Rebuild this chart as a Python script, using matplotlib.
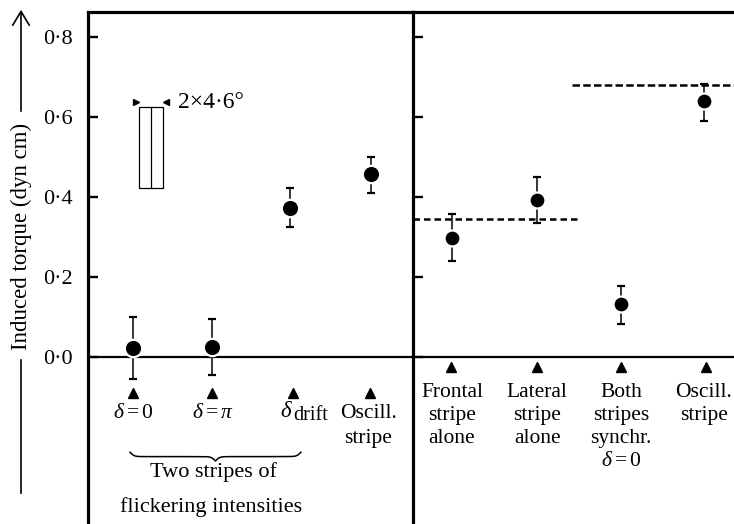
import numpy as np
import matplotlib
matplotlib.use('Agg')
import matplotlib.pyplot as plt

plt.rcParams['font.family'] = ['Liberation Serif', 'DejaVu Serif']
plt.rcParams['mathtext.fontset'] = 'custom'
plt.rcParams['mathtext.rm'] = 'Liberation Serif'
plt.rcParams['mathtext.it'] = 'Liberation Serif:italic'

# Left panel: two flickering stripes
left_pos = [0.55, 1.53, 2.49, 3.48]
left_mean = [0.023, 0.026, 0.373, 0.458]
left_hi = [0.100, 0.096, 0.422, 0.500]
left_lo = [-0.055, -0.045, 0.325, 0.410]

# Right panel
right_pos = [4.48, 5.53, 6.56, 7.58]
right_mean = [0.299, 0.393, 0.132, 0.640]
right_hi = [0.357, 0.450, 0.177, 0.682]
right_lo = [0.240, 0.334, 0.082, 0.590]
right_labels = ['Frontal\nstripe\nalone', 'Lateral\nstripe\nalone',
                'Both\nstripes\nsynchr.\n$\\delta=0$', 'Oscill.\nstripe']

# reference levels (dashed)
level_low = 0.345
level_high = 0.680

yticks = [0.0, 0.2, 0.4, 0.6, 0.8]
ytick_labels = ['0·0', '0·2', '0·4', '0·6', '0·8']

fig = plt.figure(figsize=(7.34, 5.24), dpi=100)
axL = fig.add_axes([88/734, -0.01, 325/734, 0.9871])
axR = fig.add_axes([413/734, -0.01, 332/734, 0.9871])

ylim = (-0.43, 0.8625)
for ax in (axL, axR):
    ax.set_ylim(*ylim)
    ax.set_yticks(yticks)
    ax.tick_params(axis='y', direction='in', length=7, width=1.7)
    ax.set_xticks([])
    ax.spines['bottom'].set_visible(False)
    ax.spines['right'].set_visible(False)
    ax.spines['top'].set_linewidth(2.3)
    ax.spines['left'].set_linewidth(2.3)
    ax.axhline(0, color='black', lw=1.6, zorder=1)
    ax.set_facecolor('none')

axL.set_xlim(0, 4)
axR.set_xlim(4, 4 + 332/81.25)
axL.set_yticklabels(ytick_labels, fontsize=16)
axL.tick_params(axis='y', pad=11)
axR.set_yticklabels([])

def draw_points(ax, pos, mean, hi, lo, ms):
    m = np.array(mean)
    yerr = [m - np.array(lo), np.array(hi) - m]
    ax.errorbar(pos, mean, yerr=yerr, fmt='o', color='black', ms=ms,
                mfc='black', mec='white', mew=1.6, elinewidth=1.1,
                capsize=3, capthick=1.7, zorder=3)

draw_points(axL, left_pos, left_mean, left_hi, left_lo, 12.5)
draw_points(axR, right_pos, right_mean, right_hi, right_lo, 11.5)

# dashed reference lines in right panel
axR.plot([4.0, 6.03], [level_low, level_low], color='black', lw=1.8,
         ls=(0, (2.6, 1.6)), zorder=2)
axR.plot([5.96, 8.2], [level_high, level_high], color='black', lw=1.8,
         ls=(0, (3.0, 1.3)), zorder=2)

# small arrow marks under the zero line
axL.plot([0.55, 1.53, 2.52, 3.47], [-0.089]*4, '^', color='black', ms=6.5)
axR.plot([4.47, 5.52, 6.56, 7.6], [-0.024]*4, '^', color='black', ms=6.5)

# labels under left panel
fs = 15.5
axL.text(0.55, -0.14, '$\\delta=0$', ha='center', va='center', fontsize=fs)
axL.text(1.53, -0.14, '$\\delta=\\pi$', ha='center', va='center', fontsize=fs)
axL.text(2.43, -0.137, 'δ', ha='center', va='center', fontsize=fs + 1,
         style='italic')
axL.text(2.53, -0.147, 'drift', ha='left', va='center', fontsize=fs - 1)
axL.text(3.45, -0.14, 'Oscill.', ha='center', va='center', fontsize=fs)
axL.text(3.45, -0.2025, 'stripe', ha='center', va='center', fontsize=fs)

# brace
x0, x1 = 0.517, 2.62
xs = np.linspace(x0, x1, 501)
xh = xs[:251]
beta = 40.0
yh = 1/(1 + np.exp(-beta*(xh - xh[0]))) + 1/(1 + np.exp(-beta*(xh - xh[-1])))
yb = np.concatenate((yh, yh[-2::-1]))
axL.plot(xs, -0.2375 - 0.022*(yb - 0.5), color='black', lw=1.1)
axL.text(1.54, -0.287, 'Two stripes of', ha='center', va='center', fontsize=fs + 0.5)
axL.text(1.52, -0.374, 'flickering intensities', ha='center', va='center', fontsize=fs + 0.5)

# labels under right panel
for p, lab in zip(right_pos, right_labels):
    axR.text(p, -0.064, lab, ha='center', va='top', fontsize=fs,
             linespacing=1.3)

# stripe pattern inset
axL.add_patch(plt.Rectangle((0.628, 0.4225), 0.295, 0.2025, fill=False,
                            lw=0.9, color='black'))
axL.plot([0.775, 0.775], [0.4225, 0.625], color='black', lw=0.9)
axL.plot([0.585], [0.6375], '>', color='black', ms=4.5)
axL.plot([0.966], [0.6375], '<', color='black', ms=4.5)
axL.text(1.105, 0.6375, '2×4·6°', ha='left', va='center', fontsize=17)

# y axis label with arrow
fig.text(21/734, 1 - 236/524, 'Induced torque (dyn cm)', rotation=90,
         ha='center', va='center', fontsize=16.5)
fig.add_artist(plt.Line2D([21/734, 21/734], [1 - 493/524, 1 - 360/524],
                          color='black', lw=1.2))
fig.patches.append(matplotlib.patches.FancyArrowPatch(
    (21/734, 1 - 114/524), (21/734, 1 - 7/524), transform=fig.transFigure,
    arrowstyle='->,head_length=0.5,head_width=0.3', color='black',
    lw=1.2, mutation_scale=20))

fig.savefig('out.png', dpi=100)
